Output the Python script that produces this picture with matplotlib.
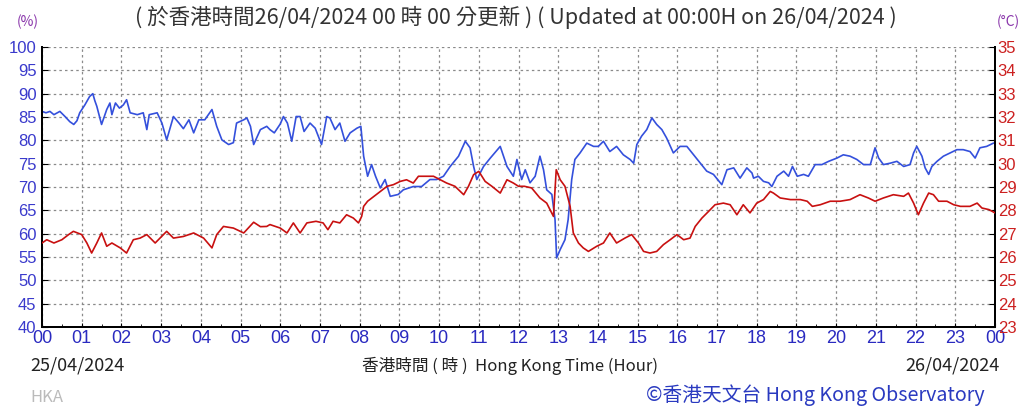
import matplotlib
matplotlib.use('Agg')
import matplotlib.pyplot as plt

# relative humidity (%), hour of day vs value
hum_hours = [0.0, 0.1, 0.2, 0.3, 0.45, 0.58, 0.7, 0.8, 0.88, 0.95, 1.08, 1.2, 1.28, 1.33, 1.38, 1.5,
             1.63, 1.71, 1.76, 1.85, 1.95, 2.05, 2.13, 2.22, 2.4, 2.55, 2.64, 2.7, 2.9, 3.02, 3.14,
             3.31, 3.45, 3.56, 3.7, 3.82, 3.95, 4.1, 4.28, 4.4, 4.53, 4.7, 4.82, 4.9, 5.08, 5.16,
             5.25, 5.33, 5.5, 5.66, 5.74, 5.85, 6.0, 6.08, 6.18, 6.29, 6.4, 6.5, 6.6, 6.75, 6.88,
             7.04, 7.17, 7.25, 7.38, 7.5, 7.63, 7.76, 7.93, 8.03, 8.1, 8.2, 8.3, 8.4, 8.52, 8.64,
             8.77, 8.97, 9.1, 9.35, 9.56, 9.77, 9.94, 10.11, 10.28, 10.49, 10.66, 10.78, 10.87,
             10.95, 11.12, 11.29, 11.54, 11.71, 11.87, 11.96, 12.08, 12.17, 12.29, 12.42, 12.54,
             12.63, 12.71, 12.84, 12.92, 12.96, 13.05, 13.17, 13.25, 13.34, 13.42, 13.55, 13.72,
             13.89, 14.01, 14.14, 14.3, 14.47, 14.64, 14.81, 14.9, 14.98, 15.1, 15.23, 15.36,
             15.48, 15.61, 15.73, 15.9, 16.07, 16.24, 16.41, 16.58, 16.74, 16.91, 17.12, 17.25,
             17.42, 17.58, 17.75, 17.88, 17.92, 18.04, 18.17, 18.3, 18.38, 18.51, 18.68, 18.8,
             18.9, 19.02, 19.18, 19.3, 19.47, 19.64, 19.81, 20.02, 20.18, 20.35, 20.52, 20.69,
             20.86, 20.98, 21.07, 21.19, 21.36, 21.53, 21.7, 21.86, 21.95, 22.03, 22.16, 22.24,
             22.33, 22.41, 22.54, 22.7, 22.87, 23.04, 23.2, 23.37, 23.5, 23.62, 23.79, 23.96, 24.0]
hum_values = [86.2, 85.9, 86.2, 85.5, 86.2, 85.1, 84.0, 83.4, 84.2, 85.9, 87.6, 89.4, 90.0, 88.5, 87.3, 83.4,
              86.6, 88.0, 85.5, 88.0, 86.9, 87.6, 88.7, 85.9, 85.5, 85.9, 82.3, 85.5, 85.9, 83.7, 80.1,
              85.1, 83.7, 82.5, 84.4, 81.6, 84.4, 84.4, 86.6, 83.0, 80.1, 79.1, 79.5, 83.7, 84.4, 84.8,
              83.0, 79.1, 82.3, 83.0, 82.3, 81.6, 83.5, 85.1, 83.7, 79.8, 85.1, 85.1, 81.9, 83.7, 82.6,
              79.1, 85.1, 84.8, 82.3, 83.7, 79.8, 81.6, 82.6, 83.0, 76.6, 72.3, 74.8, 72.3, 69.8, 71.6,
              68.0, 68.4, 69.4, 70.1, 70.1, 71.6, 71.6, 72.3, 74.4, 76.6, 79.8, 78.4, 74.4,
              71.6, 74.4, 76.2, 78.7, 74.4, 72.3, 75.9, 71.6, 73.7, 70.9, 72.3, 76.6,
              73.7, 69.4, 68.4, 63.0, 54.8, 56.6, 58.7, 63.0, 71.6, 75.9, 77.3, 79.4,
              78.7, 78.7, 79.8, 77.6, 78.7, 76.9, 75.9, 75.1, 79.1, 80.9, 82.3, 84.8,
              83.4, 82.3, 80.5, 77.3, 78.7, 78.7, 76.9, 75.1, 73.4, 72.7, 70.5, 73.7,
              74.1, 71.9, 74.1, 73.0, 71.9, 72.3, 71.2, 70.9, 70.1, 72.3, 73.4, 72.3,
              74.4, 72.3, 72.7, 72.3, 74.8, 74.8, 75.5, 76.2, 76.9, 76.6, 75.9, 74.8,
              74.8, 78.4, 76.2, 74.8, 75.1, 75.5, 74.4, 74.8, 77.3, 78.7, 76.6, 74.1,
              72.7, 74.4, 75.5, 76.6, 77.3, 78.0, 78.0, 77.6, 76.2, 78.4, 78.7, 79.4, 79.4]

# temperature (deg C)
temp_hours = [0.0, 0.12, 0.3, 0.5, 0.67, 0.79, 1.0, 1.13, 1.25, 1.38, 1.5, 1.63, 1.76, 1.97, 2.13, 2.3,
              2.47, 2.64, 2.85, 3.14, 3.31, 3.56, 3.82, 4.07, 4.28, 4.4, 4.57, 4.82, 5.08, 5.33, 5.5,
              5.66, 5.74, 6.0, 6.17, 6.33, 6.5, 6.67, 6.9, 7.08, 7.2, 7.33, 7.5, 7.67, 7.84, 7.97,
              8.05, 8.1, 8.2, 8.36, 8.52, 8.69, 8.85, 9.02, 9.18, 9.35, 9.48, 9.69, 9.86, 10.03,
              10.19, 10.4, 10.62, 10.74, 10.87, 11.0, 11.16, 11.33, 11.54, 11.71, 11.87, 12.0,
              12.15, 12.33, 12.54, 12.71, 12.88, 12.95, 13.05, 13.17, 13.3, 13.38, 13.51, 13.63,
              13.76, 13.97, 14.14, 14.3, 14.47, 14.68, 14.85, 15.02, 15.15, 15.31, 15.48, 15.65,
              15.82, 15.99, 16.16, 16.32, 16.45, 16.62, 16.79, 16.95, 17.16, 17.33, 17.5, 17.66,
              17.83, 18.0, 18.17, 18.34, 18.42, 18.59, 18.85, 19.1, 19.27, 19.4, 19.6, 19.85, 20.1,
              20.35, 20.6, 20.81, 20.98, 21.19, 21.44, 21.7, 21.82, 21.95, 22.07, 22.2, 22.33,
              22.45, 22.58, 22.79, 22.96, 23.13, 23.37, 23.55, 23.67, 23.85, 24.0]
temp_values = [26.6, 26.74, 26.6, 26.74, 26.96, 27.1, 26.96, 26.6, 26.17, 26.6, 27.03, 26.46, 26.6, 26.39, 26.17, 26.74,
               26.81, 26.96, 26.6, 27.1, 26.81, 26.88, 27.03, 26.81, 26.39, 26.96, 27.31, 27.24, 27.03, 27.49, 27.3,
               27.31, 27.39, 27.24, 27.03, 27.46, 27.03, 27.46, 27.53, 27.46, 27.17, 27.53, 27.46, 27.81, 27.67, 27.46,
               27.74, 28.17, 28.39, 28.6, 28.81, 29.03, 29.1, 29.24, 29.31, 29.17, 29.46, 29.46, 29.46, 29.31,
               29.17, 29.03, 28.67, 29.03, 29.53, 29.67, 29.24, 29.03, 28.74, 29.31, 29.17, 29.03,
               29.03, 28.96, 28.53, 28.31, 27.74, 29.74, 29.31, 29.03, 28.17, 27.03, 26.6, 26.39,
               26.24, 26.46, 26.6, 27.03, 26.6, 26.81, 26.96, 26.6, 26.24, 26.17, 26.24, 26.53,
               26.74, 26.96, 26.74, 26.81, 27.31, 27.67, 27.96, 28.24, 28.31, 28.24, 27.81, 28.24,
               27.89, 28.31, 28.46, 28.81, 28.74, 28.53, 28.46, 28.46, 28.39, 28.17, 28.24, 28.39, 28.39,
               28.46, 28.67, 28.53, 28.39, 28.53, 28.67, 28.6, 28.74, 28.31, 27.81, 28.31, 28.74,
               28.67, 28.39, 28.39, 28.24, 28.17, 28.17, 28.31, 28.1, 28.03, 27.89]

hour_labels = ['%02d' % (h % 24) for h in range(25)]
hum_ticks = list(range(40, 101, 5))
temp_ticks = list(range(23, 36))

cjk = ['Noto Sans CJK TC', 'DejaVu Sans']
narrow = ['Liberation Sans Narrow', 'Liberation Sans', 'DejaVu Sans']

fig = plt.figure(figsize=(10.25, 4.07), dpi=100)
ax = fig.add_axes([42 / 1025, 1 - 327 / 407, 953 / 1025, 280 / 407])
ax2 = ax.twinx()

ax.plot(hum_hours, hum_values, color='#3450dc', lw=1.2, zorder=3)
ax2.plot(temp_hours, temp_values, color='#c81010', lw=1.2, zorder=3)

ax.set_xlim(0, 24)
ax.set_ylim(40, 100)
ax2.set_ylim(23, 35)

ax.set_xticks(range(25))
ax.set_xticklabels(hour_labels, color='#2a2ac0', fontsize=13, family='Liberation Sans')
ax.set_xticks([h + 0.5 for h in range(24)], minor=True)
ax.set_yticks(hum_ticks)
ax.set_yticklabels([str(v) for v in hum_ticks], color='#3a3acc', fontsize=12, family=narrow)
ax2.set_yticks(temp_ticks)
ax2.set_yticklabels([str(v) for v in temp_ticks], color='#cc2020', fontsize=12, family=narrow)

ax.grid(True, which='major', linestyle=(0, (2, 2.5)), color='#8a8a8a', lw=0.9)
ax.tick_params(axis='x', which='major', direction='in', length=3, pad=2)
ax.tick_params(axis='x', which='minor', direction='in', length=2)
ax.tick_params(axis='y', direction='in', length=4, pad=4)
ax2.tick_params(axis='y', direction='in', length=4, pad=2)

for a in (ax, ax2):
    a.spines['top'].set_visible(False)
    for s in ('left', 'bottom', 'right'):
        a.spines[s].set_linewidth(1.4)
        a.spines[s].set_color('black')

fig.text(0.503, 1 - 17 / 407, '( 於香港時間26/04/2024 00 時 00 分更新 ) ( Updated at 00:00H on 26/04/2024 )',
         ha='center', va='center', fontsize=15.5, color='#333333', family=cjk)
fig.text(28 / 1025, 1 - 22 / 407, '(%)', ha='center', va='center', fontsize=10, color='#8833aa', family=cjk)
fig.text(1008 / 1025, 1 - 22 / 407, '(°C)', ha='center', va='center', fontsize=10, color='#8833aa', family=cjk)

fig.text(30 / 1025, 1 - 366 / 407, '25/04/2024', ha='left', va='center', fontsize=13, color='#222222', family=cjk)
fig.text(510 / 1025, 1 - 366 / 407, '香港時間 ( 時 )  Hong Kong Time (Hour)', ha='center', va='center',
         fontsize=12, color='#222222', family=cjk)
fig.text(1000 / 1025, 1 - 366 / 407, '26/04/2024', ha='right', va='center', fontsize=13, color='#222222', family=cjk)
fig.text(30 / 1025, 1 - 398 / 407, 'HKA', ha='left', va='center', fontsize=12, color='#bbbbbb', family=cjk)
fig.text(985 / 1025, 1 - 395 / 407, '©香港天文台 Hong Kong Observatory', ha='right', va='center',
         fontsize=14.2, color='#2a3ac0', family=cjk)

fig.savefig('out.png', dpi=100)
